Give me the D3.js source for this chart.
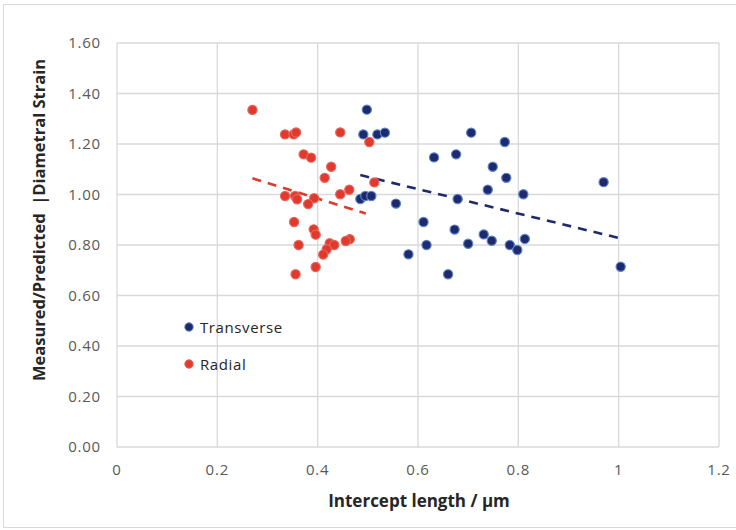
<!DOCTYPE html>
<html lang="en">
<head>
<meta charset="UTF-8">
<title>Measured/Predicted vs Intercept length</title>
<style>
  body { margin: 0; background: #fff; }
  text { font-family: "Open Sans", Lato, sans-serif; }
</style>
</head>
<body>
<div id="chart"></div>
<script src="https://d3js.org/d3.v7.min.js"></script>
<script>
// data: [intercept length (um), measured/predicted]
var transverse = [
  [0.498, 1.336], [0.491, 1.238], [0.519, 1.238], [0.534, 1.245],
  [0.485, 0.982], [0.495, 0.994], [0.507, 0.994], [0.556, 0.964],
  [0.706, 1.245], [0.773, 1.208], [0.632, 1.147], [0.676, 1.159],
  [0.749, 1.110], [0.776, 1.066], [0.739, 1.019], [0.810, 1.001],
  [0.679, 0.982], [0.611, 0.891], [0.673, 0.861], [0.617, 0.800],
  [0.700, 0.805], [0.731, 0.842], [0.747, 0.817], [0.783, 0.800],
  [0.813, 0.824], [0.798, 0.780], [0.581, 0.763], [0.660, 0.684],
  [0.970, 1.049], [1.004, 0.714]
];
var radial = [
  [0.270, 1.335], [0.335, 1.238], [0.352, 1.238], [0.357, 1.246],
  [0.445, 1.246], [0.503, 1.208], [0.372, 1.159], [0.387, 1.146],
  [0.427, 1.110], [0.414, 1.066], [0.513, 1.048], [0.463, 1.019],
  [0.445, 1.001], [0.335, 0.994], [0.355, 0.994], [0.359, 0.981],
  [0.393, 0.985], [0.381, 0.962], [0.353, 0.891], [0.392, 0.862],
  [0.396, 0.841], [0.362, 0.800], [0.424, 0.807], [0.433, 0.800],
  [0.464, 0.823], [0.456, 0.816], [0.418, 0.783], [0.411, 0.762],
  [0.396, 0.713], [0.356, 0.684]
];
// linear trend lines (end points)
var transverseTrend = [[0.485, 1.077], [1.004, 0.826]];
var radialTrend = [[0.270, 1.064], [0.496, 0.925]];

var xTicks = [0, 0.2, 0.4, 0.6, 0.8, 1, 1.2];
var yTicks = [0, 0.2, 0.4, 0.6, 0.8, 1.0, 1.2, 1.4, 1.6];

var W = 736, H = 530;
var margin = {top: 43, right: 17, bottom: 83, left: 117};

var svg = d3.select("#chart").append("svg")
  .attr("width", W).attr("height", H);

// chart border
svg.append("rect")
  .attr("x", 3.5).attr("y", 4.5)
  .attr("width", W).attr("height", 523)
  .attr("fill", "none").attr("stroke", "#d9d9d9");

var x = d3.scaleLinear().domain([0, 1.2]).range([margin.left, W - margin.right]);
var y = d3.scaleLinear().domain([0, 1.6]).range([H - margin.bottom, margin.top]);

// gridlines
svg.append("g").selectAll("line").data(xTicks).enter().append("line")
  .attr("x1", d => x(d)).attr("x2", d => x(d))
  .attr("y1", y(0)).attr("y2", y(1.6))
  .attr("stroke", "#d9d9d9").attr("stroke-width", 1.3);
svg.append("g").selectAll("line").data(yTicks).enter().append("line")
  .attr("x1", x(0)).attr("x2", x(1.2))
  .attr("y1", d => y(d)).attr("y2", d => y(d))
  .attr("stroke", "#d9d9d9").attr("stroke-width", 1.3);

// tick labels
svg.append("g").selectAll("text").data(xTicks).enter().append("text")
  .attr("x", d => x(d)).attr("y", y(0) + 28)
  .attr("text-anchor", "middle")
  .attr("font-size", "15px").attr("fill", "#595959")
  .attr("letter-spacing", "0.8px")
  .text(d => d3.format("")(d));
svg.append("g").selectAll("text").data(yTicks).enter().append("text")
  .attr("x", x(0) - 16).attr("y", d => y(d) + 5)
  .attr("text-anchor", "end")
  .attr("font-size", "15px").attr("fill", "#595959")
  .attr("letter-spacing", "0.8px")
  .text(d => d.toFixed(2));

// axis titles
svg.append("text")
  .attr("x", 419).attr("y", 507)
  .attr("text-anchor", "middle")
  .attr("font-size", "17px").attr("font-weight", "bold").attr("fill", "#262626")
  .text("Intercept length / \u00b5m");
svg.append("text")
  .attr("transform", "translate(45,220) rotate(-90)")
  .attr("text-anchor", "middle")
  .attr("font-size", "16.5px").attr("font-weight", "bold").attr("fill", "#262626")
  .style("white-space", "pre")
  .text("Measured/Predicted  |Diametral Strain");

// trend lines
var line = d3.line().x(d => x(d[0])).y(d => y(d[1]));
svg.append("path").datum(transverseTrend)
  .attr("d", line).attr("fill", "none")
  .attr("stroke", "#1f2a6b").attr("stroke-width", 2.6)
  .attr("stroke-dasharray", "9,7");
svg.append("path").datum(radialTrend)
  .attr("d", line).attr("fill", "none")
  .attr("stroke", "#e0392d").attr("stroke-width", 2.6)
  .attr("stroke-dasharray", "9,7");

// points
svg.append("g").selectAll("circle").data(transverse).enter().append("circle")
  .attr("cx", d => x(d[0])).attr("cy", d => y(d[1])).attr("r", 4.6)
  .attr("fill", "#1f2a6e").attr("stroke", "#5a85c8").attr("stroke-width", 1.2);
svg.append("g").selectAll("circle").data(radial).enter().append("circle")
  .attr("cx", d => x(d[0])).attr("cy", d => y(d[1])).attr("r", 4.6)
  .attr("fill", "#e0392d").attr("stroke", "#e8675e").attr("stroke-width", 1.2);

// legend
var legend = [
  {name: "Transverse", fill: "#1f2a6e", stroke: "#5a85c8"},
  {name: "Radial", fill: "#e0392d", stroke: "#e8675e"}
];
var lg = svg.append("g").selectAll("g").data(legend).enter().append("g")
  .attr("transform", (d, i) => "translate(189," + (327 + i * 37) + ")");
lg.append("circle").attr("r", 4.2)
  .attr("fill", d => d.fill).attr("stroke", d => d.stroke).attr("stroke-width", 1);
lg.append("text").attr("x", 11).attr("y", 5.5)
  .attr("font-size", "15px").attr("fill", "#262626")
  .attr("letter-spacing", "0.6px")
  .text(d => d.name);
</script>
</body>
</html>
